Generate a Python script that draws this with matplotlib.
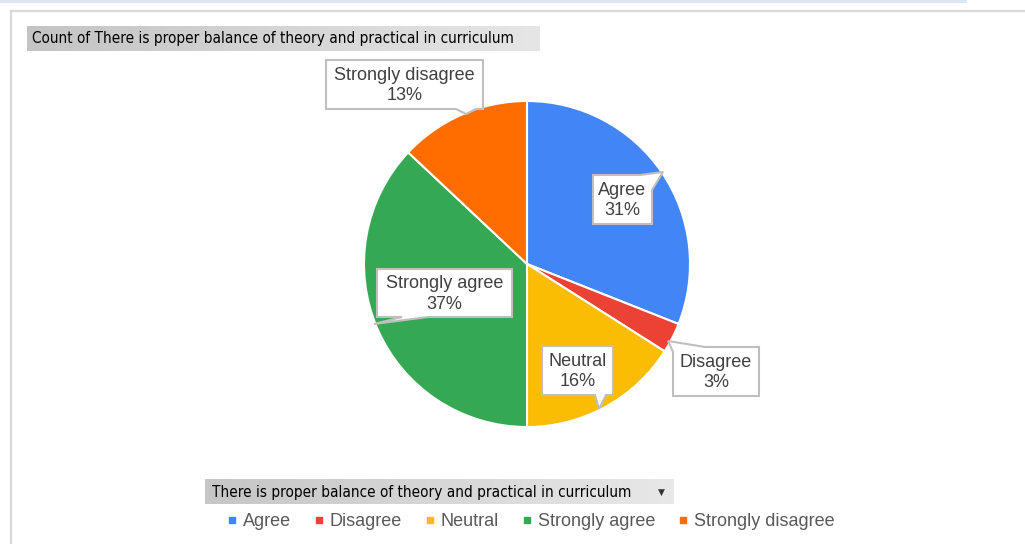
import numpy as np
import matplotlib.pyplot as plt
from matplotlib.colors import to_rgb
from matplotlib.patches import Polygon, Rectangle
from matplotlib.lines import Line2D

W, H = 1025, 544

title = 'Count of There is proper balance of theory and practical in curriculum'
field = 'There is proper balance of theory and practical in curriculum'
labels = ['Agree', 'Disagree', 'Neutral', 'Strongly agree', 'Strongly disagree']
values = [31, 3, 16, 37, 13]
colors = ['#4285f4', '#ea4335', '#fbbc04', '#34a853', '#ff6d01']

# callout shapes in pixel coords (box with a small pointer tail), plus box rect
callouts = {
    'Agree': [(593, 175), (640, 175), (663, 172), (652, 190), (652, 224), (593, 224)],
    'Disagree': [(673, 352), (668, 341), (705, 347), (759, 347), (759, 396), (673, 396)],
    'Neutral': [(542, 346), (613, 346), (613, 395), (606, 395), (599, 409), (595, 395), (542, 395)],
    'Strongly agree': [(377, 269), (512, 269), (512, 317), (428, 317), (374, 324), (402, 317), (377, 317)],
    'Strongly disagree': [(326, 60), (483, 60), (483, 109), (476, 109), (466, 114), (456, 109), (326, 109)],
}
boxes = {
    'Agree': (593, 175, 652, 224),
    'Disagree': (673, 347, 759, 396),
    'Neutral': (542, 346, 613, 395),
    'Strongly agree': (377, 269, 512, 317),
    'Strongly disagree': (326, 60, 483, 109),
}

fig = plt.figure(figsize=(W / 100, H / 100), dpi=100)
fig.patch.set_facecolor('white')

# pie
cx, cy, r = 527, 264, 163
pax = fig.add_axes([(cx - r) / W, (H - cy - r) / H, 2 * r / W, 2 * r / H])
wedges, _ = pax.pie(values, colors=colors, startangle=90, counterclock=False,
                    radius=1, wedgeprops=dict(edgecolor='white', linewidth=1.5))
pax.set_xlim(-1, 1)
pax.set_ylim(-1, 1)
pax.set_aspect('equal')

# overlay in pixel space
ax = fig.add_axes([0, 0, 1, 1])
ax.set_xlim(0, W)
ax.set_ylim(H, 0)
ax.axis('off')

ax.add_patch(Rectangle((0, 0), 967, 3, color='#dce6f5', lw=0))
ax.plot([11, W], [11, 11], color='#d9d9d9', lw=1.6)
ax.plot([11, 11], [11, H], color='#d9d9d9', lw=1.6)

def grad_box(x0, y0, x1, y1, c0, c1):
    g = np.linspace(0, 1, 256)[None, :, None]
    a = np.array(to_rgb(c0))
    b = np.array(to_rgb(c1))
    img = a + (b - a) * g
    ax.imshow(img, extent=(x0, x1, y1, y0), aspect='auto', zorder=1)

grad_box(27, 26, 540, 51, '#c4c4c4', '#e6e6e6')
ax.text(32, 39, title, fontsize=11, family='DejaVu Sans', color='black',
        va='center', ha='left', fontstretch='condensed', zorder=2)

grad_box(205, 479, 674, 504, '#c6c6c6', '#e8e8e8')
ax.text(212, 492, field, fontsize=11, family='DejaVu Sans', color='black',
        va='center', ha='left', fontstretch='condensed', zorder=2)
ax.text(661, 492, '\u25bc', fontsize=6.5, family='DejaVu Sans', color='#333333',
        va='center', ha='center', zorder=2)

total = sum(values)
for lab, val in zip(labels, values):
    ax.add_patch(Polygon(callouts[lab], closed=True, facecolor='white',
                         edgecolor='#bfbfbf', lw=1.5, zorder=3))
    x0, y0, x1, y1 = boxes[lab]
    ax.text((x0 + x1) / 2, (y0 + y1) / 2 + 1, f'{lab}\n{round(100 * val / total)}%',
            fontsize=13, family='Liberation Sans', color='#404040',
            ha='center', va='center', linespacing=1.25, zorder=4)

handles = [Line2D([], [], marker='s', ls='', markersize=5, color=c) for c in colors]
leg = ax.legend(handles, labels, loc='center', bbox_to_anchor=(531 / W, 1 - 522 / H),
                ncol=5, frameon=False, handlelength=0.5, handletextpad=0.35,
                columnspacing=1.3, prop=dict(family='Liberation Sans', size=13))
for t in leg.get_texts():
    t.set_color('#595959')

fig.savefig('out.png', dpi=100)
